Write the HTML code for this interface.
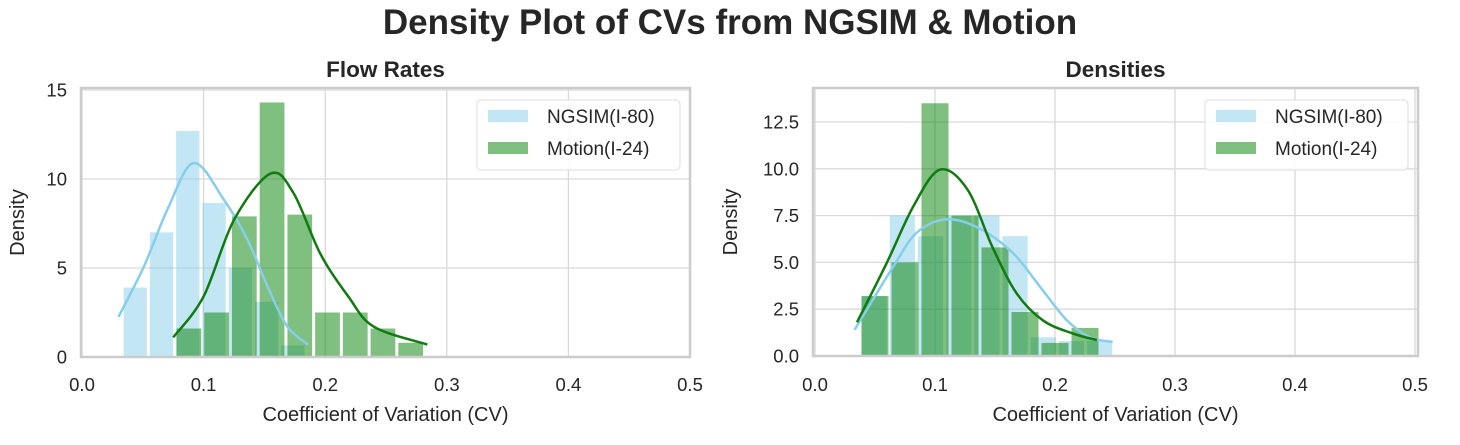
<!DOCTYPE html>
<html><head><meta charset="utf-8"><style>
body{margin:0;background:#fff;font-family:"Liberation Sans",sans-serif;}
svg text{font-family:"Liberation Sans",sans-serif;fill:#262626;}
</style></head><body>
<svg id="chart" width="1460" height="440">
<text x="730" y="34" text-anchor="middle" font-size="35" font-weight="bold">Density Plot of CVs from NGSIM &amp; Motion</text>
</svg>
<script>
// Flow rates panel data
const flowNgsimBinStart = 0.033, flowNgsimBinWidth = 0.0216;
const flowNgsimHeights = [3.9, 7.0, 12.7, 8.65, 5.0, 3.1, 0.65];
const flowMotionBinStart = 0.0765, flowMotionBinWidth = 0.0228;
const flowMotionHeights = [1.6, 2.5, 7.9, 14.3, 8.0, 2.5, 2.5, 1.6, 0.8];
const flowNgsimKdeX = [0.030, 0.051, 0.071, 0.092, 0.117, 0.136, 0.153, 0.169, 0.186];
const flowNgsimKdeY = [2.25, 5.1, 8.4, 10.9, 8.8, 6.6, 3.9, 1.7, 0.7];
const flowMotionKdeX = [0.075, 0.100, 0.125, 0.155, 0.174, 0.196, 0.219, 0.240, 0.284];
const flowMotionKdeY = [1.1, 3.4, 7.7, 10.3, 9.2, 5.8, 3.4, 1.7, 0.7];
const flowYTicks = [0, 5, 10, 15];
// Densities panel data
const densNgsimBinStart = 0.0375, densNgsimBinWidth = 0.0235;
const densNgsimHeights = [3.2, 7.5, 6.4, 7.5, 7.5, 6.4, 1.0, 0.8, 0.8];
const densMotionBinStart = 0.0375, densMotionBinWidth = 0.025;
const densMotionHeights = [3.2, 5.0, 13.5, 7.5, 5.8, 2.35, 0.7, 1.5];
const densNgsimKdeX = [0.033, 0.065, 0.085, 0.110, 0.1375, 0.165, 0.1875, 0.21, 0.229, 0.248];
const densNgsimKdeY = [1.4, 4.75, 6.6, 7.3, 6.8, 5.5, 3.7, 1.9, 1.0, 0.75];
const densMotionKdeX = [0.035, 0.06, 0.082, 0.104, 0.127, 0.148, 0.168, 0.19, 0.215, 0.235];
const densMotionKdeY = [1.8, 5.0, 8.0, 9.95, 8.9, 5.8, 3.35, 1.9, 1.2, 0.85];
const densYTicks = [0, 2.5, 5, 7.5, 10, 12.5];
const xTicks = [0, 0.1, 0.2, 0.3, 0.4, 0.5];
const seriesNames = ["NGSIM(I-80)", "Motion(I-24)"];

const NS = "http://www.w3.org/2000/svg";
const svg = document.getElementById("chart");
function mk(tag, attrs, parent) {
  const e = document.createElementNS(NS, tag);
  for (const k in attrs) e.setAttribute(k, attrs[k]);
  (parent || svg).appendChild(e);
  return e;
}
function smooth(pts) {
  let d = "M" + pts[0][0] + "," + pts[0][1];
  for (let i = 0; i < pts.length - 1; i++) {
    const p0 = pts[Math.max(0, i - 1)], p1 = pts[i], p2 = pts[i + 1], p3 = pts[Math.min(pts.length - 1, i + 2)];
    const c1x = p1[0] + (p2[0] - p0[0]) / 6, c1y = p1[1] + (p2[1] - p0[1]) / 6;
    const c2x = p2[0] - (p3[0] - p1[0]) / 6, c2y = p2[1] - (p3[1] - p1[1]) / 6;
    d += " C" + c1x + "," + c1y + " " + c2x + "," + c2y + " " + p2[0] + "," + p2[1];
  }
  return d;
}
function panel(p) {
  const g = mk("g", {});
  
  
  const sx = v => p.x0 + v * p.xs;
  const sy = v => p.y0 - v * p.ys;
  xTicks.forEach(t => {
    const l = mk("line", {x1: sx(t), x2: sx(t), y1: p.top, y2: p.y0, stroke: "#d9d9d9", "stroke-width": 1.3}, g);
    
    
    const tx = mk("text", {x: sx(t), y: 391, "text-anchor": "middle", "font-size": 18.5}, g);
    tx.textContent = t.toFixed(1);
    
    
  });
  p.yTicks.forEach(t => {
    const l = mk("line", {x1: p.left, x2: p.right, y1: sy(t), y2: sy(t), stroke: "#d9d9d9", "stroke-width": 1.3}, g);
    
    
    const tx = mk("text", {x: p.left - 14, y: sy(t) + 6.5, "text-anchor": "end", "font-size": 18.5}, g);
    tx.textContent = p.yFmt(t);
    
    
  });
  const drawBars = (start, w, hs, color, nm) => {
    hs.forEach((h, i) => {
      const x1 = sx(start + i * w), x2 = sx(start + (i + 1) * w);
      const r = mk("rect", {x: x1 + 1.5, y: sy(h), width: x2 - x1 - 3, height: sy(0) - sy(h), fill: color, "fill-opacity": 0.5}, g);
      
      
    });
  };
  drawBars(p.nStart, p.nW, p.nH, "#87ceeb", "ngsim-bar");
  drawBars(p.mStart, p.mW, p.mH, "#008000", "motion-bar");
  const k1 = mk("path", {d: smooth(p.nKx.map((x, i) => [sx(x), sy(p.nKy[i])])), fill: "none", stroke: "#87ceeb", "stroke-width": 2.5}, g);
  
  
  const k2 = mk("path", {d: smooth(p.mKx.map((x, i) => [sx(x), sy(p.mKy[i])])), fill: "none", stroke: "#117a11", "stroke-width": 2.5}, g);
  
  
  const fr = mk("rect", {x: p.left, y: p.top, width: p.right - p.left, height: p.y0 - p.top, fill: "none", stroke: "#cccccc", "stroke-width": 2.5}, g);
  
  
  const ti = mk("text", {x: (p.left + p.right) / 2, y: 77, "text-anchor": "middle", "font-size": 22.5, "font-weight": "bold"}, g);
  ti.textContent = p.title;
  
  
  const xl = mk("text", {x: (p.left + p.right) / 2, y: 421, "text-anchor": "middle", "font-size": 20}, g);
  xl.textContent = "Coefficient of Variation (CV)";
  
  
  const yl = mk("text", {x: 0, y: 0, "text-anchor": "middle", "font-size": 20, transform: "translate(" + p.ylx + "," + ((p.top + p.y0) / 2) + ") rotate(-90)"}, g);
  yl.textContent = "Density";
  
  
  const lg = mk("g", {}, g);
  
  
  const lx = p.right - 213;
  mk("rect", {x: lx, y: 100, width: 203, height: 70, rx: 4, fill: "#fff", "fill-opacity": 0.85, stroke: "#dddddd", "stroke-width": 1}, lg);
  [["#87ceeb", 110], ["#008000", 142]].forEach((s, i) => {
    const sw = mk("rect", {x: lx + 11, y: s[1], width: 40, height: 12, fill: s[0], "fill-opacity": 0.5}, lg);
    
    
    const t = mk("text", {x: lx + 70, y: s[1] + 13, "font-size": 19}, lg);
    t.textContent = seriesNames[i];
    
    
  });
}
panel({name: "flow-rates-panel", title: "Flow Rates", x0: 82, xs: 1216, y0: 357, ys: 17.8, top: 88, left: 81, right: 690,
  yTicks: flowYTicks, yFmt: t => String(t), ylx: 24,
  nStart: flowNgsimBinStart, nW: flowNgsimBinWidth, nH: flowNgsimHeights,
  mStart: flowMotionBinStart, mW: flowMotionBinWidth, mH: flowMotionHeights,
  nKx: flowNgsimKdeX, nKy: flowNgsimKdeY, mKx: flowMotionKdeX, mKy: flowMotionKdeY});
panel({name: "densities-panel", title: "Densities", x0: 815, xs: 1200, y0: 356, ys: 18.72, top: 88, left: 813, right: 1418,
  yTicks: densYTicks, yFmt: t => t.toFixed(1), ylx: 737,
  nStart: densNgsimBinStart, nW: densNgsimBinWidth, nH: densNgsimHeights,
  mStart: densMotionBinStart, mW: densMotionBinWidth, mH: densMotionHeights,
  nKx: densNgsimKdeX, nKy: densNgsimKdeY, mKx: densMotionKdeX, mKy: densMotionKdeY});
</script>
</body></html>
